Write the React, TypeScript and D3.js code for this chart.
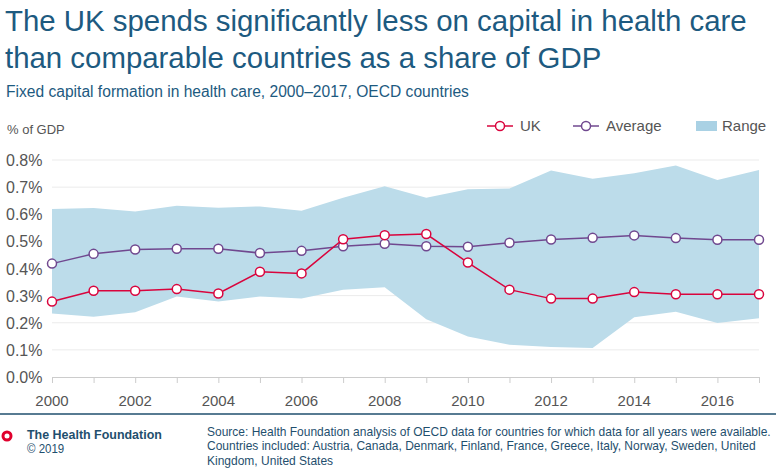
import { useEffect, useRef } from 'react';
import * as d3 from 'd3';

const years = d3.range(2000, 2018);
const ukValues = [0.278, 0.318, 0.318, 0.324, 0.308, 0.388, 0.382, 0.508, 0.523, 0.527, 0.422, 0.322, 0.289, 0.289, 0.313, 0.305, 0.305, 0.305];
const averageValues = [0.418, 0.454, 0.47, 0.473, 0.473, 0.457, 0.465, 0.482, 0.491, 0.482, 0.48, 0.495, 0.507, 0.513, 0.522, 0.512, 0.506, 0.506];
const rangeHigh = [0.619, 0.623, 0.61, 0.631, 0.624, 0.629, 0.613, 0.661, 0.703, 0.661, 0.692, 0.695, 0.761, 0.731, 0.751, 0.78, 0.726, 0.763];
const rangeLow = [0.234, 0.222, 0.239, 0.297, 0.278, 0.297, 0.289, 0.322, 0.331, 0.213, 0.149, 0.119, 0.111, 0.107, 0.22, 0.241, 0.199, 0.217];
const yTicks = [0, 0.1, 0.2, 0.3, 0.4, 0.5, 0.6, 0.7, 0.8];
const xTickYears = [2000, 2002, 2004, 2006, 2008, 2010, 2012, 2014, 2016];

const sourceLines = [
  'Source: Health Foundation analysis of OECD data for countries for which data for all years were available.',
  'Countries included: Austria, Canada, Denmark, Finland, France, Greece, Italy, Norway, Sweden, United',
  'Kingdom, United States',
];

const FONT = '"Liberation Sans", Arial, sans-serif';
const BLUE = '#1d5a80';
const RED = '#d9043d';
const PURPLE = '#70488f';
const FILL = '#bcdcea';
const TEXT = '#555';
const FOOT = '#1f4f6e';

export default function App() {
  const ref = useRef<SVGSVGElement>(null);

  useEffect(() => {
    document.body.style.margin = '0';
    if (!ref.current) return;
    const svg = d3.select(ref.current);
    svg.selectAll('*').remove();

    const width = 776;
    const height = 476;

    const x = d3.scaleLinear().domain([2000, 2017]).range([52, 759]);
    const y = d3.scaleLinear().domain([0, 0.8]).range([377, 160]);

    svg.attr('width', width).attr('height', height).style('font-family', FONT);

    // Title and subtitle
    const title = svg.append('g').attr('fill', BLUE);
    title.append('text').attr('x', 5).attr('y', 31).style('font-size', '29.4px')
      .text('The UK spends significantly less on capital in health care');
    title.append('text').attr('x', 5).attr('y', 68).style('font-size', '29.4px')
      .text('than comparable countries as a share of GDP');
    title.append('text').attr('x', 6).attr('y', 97).style('font-size', '15.6px')
      .text('Fixed capital formation in health care, 2000\u20132017, OECD countries');

    svg.append('text').attr('x', 7).attr('y', 134).attr('fill', TEXT)
      .style('font-size', '13px').text('% of GDP');

    // Gridlines
    svg.append('g').selectAll('line').data(yTicks.slice(1)).join('line')
      .attr('x1', 52).attr('x2', 759)
      .attr('y1', d => y(d)).attr('y2', d => y(d))
      .attr('stroke', '#ebebeb').attr('stroke-width', 1);

    svg.append('g').selectAll('text').data(yTicks).join('text')
      .attr('x', 6).attr('y', d => y(d) + 6)
      .attr('fill', TEXT).style('font-size', '16px')
      .text(d => d.toFixed(1) + '%');

    // Range area
    const area = d3.area<number>()
      .x((_, i) => x(years[i]))
      .y0((_, i) => y(rangeLow[i]))
      .y1((_, i) => y(rangeHigh[i]));
    svg.append('path').datum(years).attr('d', area).attr('fill', FILL);

    // X axis
    const xAxis = svg.append('g').attr('transform', 'translate(0,377)')
      .call(d3.axisBottom(x).tickValues(years).tickSize(6).tickFormat(() => ''));
    xAxis.select('.domain').attr('stroke', '#ccc');
    xAxis.selectAll('.tick line').attr('stroke', '#ccc');

    svg.append('g').selectAll('text').data(xTickYears).join('text')
      .attr('x', d => x(d)).attr('y', 406).attr('text-anchor', 'middle')
      .attr('fill', TEXT).style('font-size', '15px').text(d => String(d));

    // Lines
    const drawSeries = (values: number[], color: string) => {
      const line = d3.line<number>().x((_, i) => x(years[i])).y(d => y(d));
      svg.append('path').datum(values).attr('d', line)
        .attr('fill', 'none').attr('stroke', color).attr('stroke-width', 1.5);
      svg.append('g').selectAll('circle').data(values).join('circle')
        .attr('cx', (_, i) => x(years[i])).attr('cy', d => y(d)).attr('r', 4.5)
        .attr('fill', '#fff').attr('stroke', color).attr('stroke-width', 1.5);
    };
    drawSeries(averageValues, PURPLE);
    drawSeries(ukValues, RED);

    // Legend
    const legend = svg.append('g').style('font-size', '15px').attr('fill', TEXT);
    const legendItems = [
      { label: 'UK', color: RED, x: 487 },
      { label: 'Average', color: PURPLE, x: 573 },
    ];
    legendItems.forEach(item => {
      legend.append('line').attr('x1', item.x).attr('x2', item.x + 26)
        .attr('y1', 126).attr('y2', 126).attr('stroke', item.color).attr('stroke-width', 1.5);
      legend.append('circle').attr('cx', item.x + 13).attr('cy', 126).attr('r', 4.5)
        .attr('fill', '#fff').attr('stroke', item.color).attr('stroke-width', 1.5);
      legend.append('text').attr('x', item.x + 33).attr('y', 131).text(item.label);
    });
    legend.append('rect').attr('x', 696).attr('y', 121).attr('width', 21).attr('height', 10)
      .attr('fill', '#a9d1e4');
    legend.append('text').attr('x', 722).attr('y', 131).text('Range');

    // Footer
    svg.append('line').attr('x1', 0).attr('x2', width).attr('y1', 414).attr('y2', 414)
      .attr('stroke', FOOT).attr('stroke-width', 1.5);
    svg.append('circle').attr('cx', 7).attr('cy', 436).attr('r', 4)
      .attr('fill', 'none').attr('stroke', '#e0002d').attr('stroke-width', 3);

    // condensed look: squeeze footer text horizontally
    const brand = svg.append('g').attr('fill', FOOT);
    const brandName = brand.append('text').attr('y', 439)
      .style('font-size', '13px').style('font-weight', 'bold')
      .text('The Health Foundation');
    brand.append('text').attr('y', 453).style('font-size', '12px').text('\u00a9 2019');
    const brandLen = (brandName.node() as SVGTextElement).getComputedTextLength();
    brand.attr('transform', `translate(27,0) scale(${135 / brandLen},1)`);

    const source = svg.append('g').attr('fill', FOOT);
    source.selectAll('text').data(sourceLines).join('text')
      .attr('x', 0).attr('y', (_, i) => 436 + i * 14.5)
      .style('font-size', '12.5px')
      .text(d => d);
    const firstLen = (source.select('text').node() as SVGTextElement).getComputedTextLength();
    source.attr('transform', `translate(207,0) scale(${564 / firstLen},1)`);
  }, []);

  return <svg ref={ref} style={{ display: 'block' }}></svg>;
}
